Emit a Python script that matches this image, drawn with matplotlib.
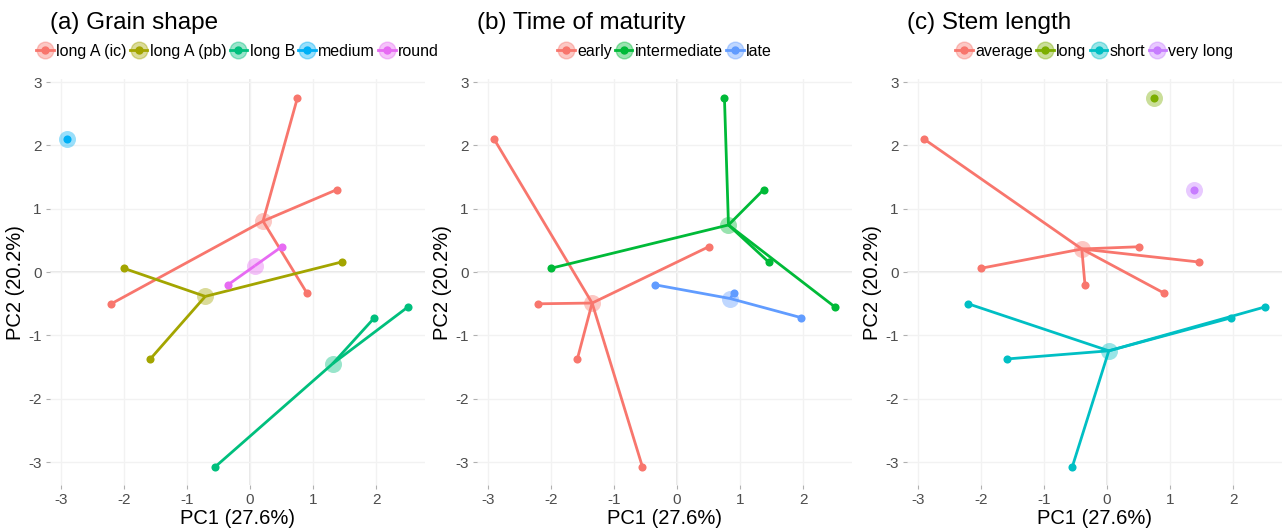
import numpy as np
import matplotlib
matplotlib.use("Agg")
import matplotlib.pyplot as plt
from matplotlib.lines import Line2D
from matplotlib.legend_handler import HandlerTuple

plt.rcParams["font.family"] = ["Liberation Sans", "DejaVu Sans"]

# PCA scores of the 13 accessions
pc1 = [-2.9, -2.0, -0.35, 0.5, 0.9, 1.45, 0.75, 1.37, -2.2, -1.58, -0.55, 1.97, 2.5]
pc2 = [2.1, 0.06, -0.2, 0.4, -0.33, 0.16, 2.75, 1.3, -0.5, -1.37, -3.07, -0.72, -0.55]

grain = ["medium", "long A (pb)", "round", "round", "long A (ic)", "long A (pb)",
         "long A (ic)", "long A (ic)", "long A (ic)", "long A (pb)", "long B", "long B", "long B"]
maturity = ["early", "intermediate", "late", "early", "late", "intermediate",
            "intermediate", "intermediate", "early", "early", "early", "late", "intermediate"]
stem = ["average", "average", "average", "average", "average", "average",
        "long", "very long", "short", "short", "short", "short", "short"]

grain_levels = ["long A (ic)", "long A (pb)", "long B", "medium", "round"]
maturity_levels = ["early", "intermediate", "late"]
stem_levels = ["average", "long", "short", "very long"]

grain_cols = ["#F8766D", "#A3A500", "#00BF7D", "#00B0F6", "#E76BF3"]
maturity_cols = ["#F8766D", "#00BA38", "#619CFF"]
stem_cols = ["#F8766D", "#7CAE00", "#00BFC4", "#C77CFF"]

panels = [
    ("(a) Grain shape", grain, grain_levels, grain_cols),
    ("(b) Time of maturity", maturity, maturity_levels, maturity_cols),
    ("(c) Stem length", stem, stem_levels, stem_cols),
]

x = np.array(pc1)
y = np.array(pc2)

fig = plt.figure(figsize=(12.85, 5.32), dpi=100)
lefts = [0.0389, 0.3712, 0.7058]
grey = "#4D4D4D"

for left, (title, groups, levels, cols) in zip(lefts, panels):
    ax = fig.add_axes([left, 0.0883, 0.2918, 0.7623])
    groups = np.array(groups)
    handles = []
    for lev, col in zip(levels, cols):
        m = groups == lev
        cx, cy = x[m].mean(), y[m].mean()
        for px, py in zip(x[m], y[m]):
            ax.plot([cx, px], [cy, py], color=col, lw=2, zorder=3, solid_capstyle="butt")
        ax.scatter(x[m], y[m], s=34, color=col, zorder=4, linewidths=0)
        ax.scatter([cx], [cy], s=150, color=col, alpha=0.4, zorder=5, linewidths=0)
        big = Line2D([], [], marker="o", ms=12, color=col, alpha=0.4, ls="none")
        small = Line2D([], [], marker="o", ms=5, color=col, lw=2)
        handles.append((big, small))

    ax.set_xlim(-3.17, 2.77)
    ax.set_ylim(-3.36, 3.04)
    ax.set_xticks([-3, -2, -1, 0, 1, 2])
    ax.set_yticks([-3, -2, -1, 0, 1, 2, 3])
    ax.set_xticklabels(["-3", "-2", "-1", "0", "1", "2"])
    ax.set_yticklabels(["-3", "-2", "-1", "0", "1", "2", "3"])
    ax.grid(True, color="#F2F2F2", lw=1.0, zorder=0)
    ax.axhline(0, color="#E3E3E3", lw=1.2, zorder=1)
    ax.axvline(0, color="#E3E3E3", lw=1.2, zorder=1)
    for s in ax.spines.values():
        s.set_visible(False)
    ax.tick_params(colors="#B0B0B0", labelcolor=grey, labelsize=11, length=3, width=0.8, pad=3)
    ax.set_xlabel("PC1 (27.6%)", fontsize=14.5, labelpad=1)
    ax.set_ylabel("PC2 (20.2%)", fontsize=14.5, labelpad=2)
    ax.set_title(title, fontsize=17.5, loc="left", pad=36, x=0.0)

    leg = ax.legend(handles, levels, handler_map={tuple: HandlerTuple(ndivide=1)},
                    loc="lower center", bbox_to_anchor=(0.5, 1.0), ncol=len(levels),
                    frameon=False, fontsize=11.5, handlelength=1.1, handletextpad=0.15,
                    columnspacing=0.2, borderaxespad=0.9)

fig.savefig("out.png", dpi=100, facecolor="white")
